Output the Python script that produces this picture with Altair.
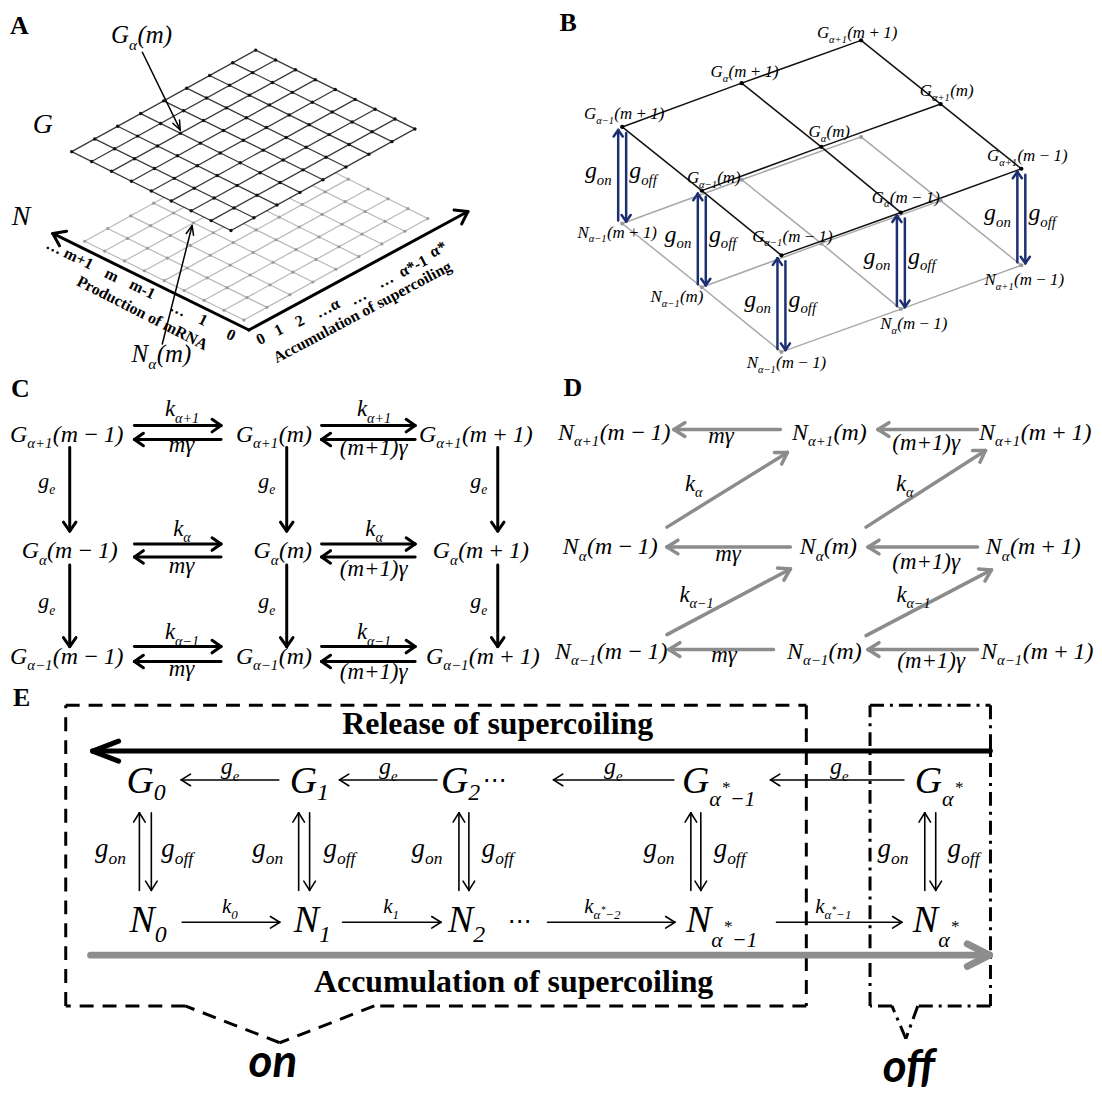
import math
import altair as alt
import pandas as pd

# ======================= values =======================
T_P = "(m\u2009+\u20091)"
T_0 = "(m)"
T_M = "(m\u2009\u2212\u20091)"

panel_letters = ["A", "B", "C", "D", "E"]
panel_letter_x = [10, 562, 11, 566, 13]
panel_letter_y = [30, 27, 394, 393, 705]

# ---- Panel A : two stacked lattices ----
A_cells = 8
A_G_corner = [232, 227]
A_N_corner = [245, 317]
A_step_alpha = [23.1, -12.75]
A_step_m = [-20.0, -9.9]
A_axis_origin = [250, 327]
A_axis_tips = [[53, 230], [470, 208]]
A_m_ticks = ["\u2026 m+1", "m", "m-1", "\u2026", "1", "0"]
A_m_tick_x = [70, 112, 143, 179, 204, 232]
A_m_tick_y = [251, 272, 286, 306, 317, 332]
A_alpha_ticks = ["0", "1", "2", "\u2026\u03b1", "\u2026", "\u2026", "\u03b1*-1", "\u03b1*"]
A_alpha_tick_x = [262, 280, 301, 329, 360, 387, 415, 440]
A_alpha_tick_y = [336, 327, 318, 305, 294, 277, 263, 246]
A_axis_titles = ["Production of mRNA", "Accumulation of supercoiling"]
A_axis_title_x = [143, 364]
A_axis_title_y = [310, 309]
A_axis_title_angle = [27, -28]
A_layer_names = ["G", "N"]
A_layer_x = [43, 21]
A_layer_y = [120, 213]
A_callouts = ["G|_\u03b1|(m)", "N|_\u03b1|(m)"]
A_callout_x = [142, 162]
A_callout_y = [31, 352]
A_callout_from = [[143, 48], [163, 341]]
A_callout_to = [[181, 126], [193, 222]]

# ---- Panel B : 3-D lattice ----
B_alpha = ["\u03b1\u22121", "\u03b1", "\u03b1+1"]
B_m_tail = [T_P, T_0, T_M]
B_G_x = [[625, 745, 865], [705, 825, 945], [785, 905, 1026]]
B_G_y = [[123, 79, 36], [187, 143, 100], [252, 209, 165]]
B_N_drop = 97
B_G_label_x = [[627, 748, 861], [717, 833, 951], [796, 910, 1032]]
B_G_label_y = [[110, 68, 29], [174, 128, 87], [233, 194, 152]]
B_front = [[0, 0], [1, 0], [2, 0], [2, 1], [2, 2]]
B_N_label_x = [620, 680, 790, 918, 1029]
B_N_label_y = [229, 294, 360, 321, 277]

# ---- Panel C ----
C_alpha = ["\u03b1+1", "\u03b1", "\u03b1\u22121"]
C_tails = [T_M, T_0, T_P]
C_node_x = [[67, 275, 478], [70, 284, 483], [67, 275, 485]]
C_node_y = [432, 549, 655]
C_harrow_x = [[135, 222], [323, 417]]
C_harrow_y = [[423, 437], [542, 555], [645, 660]]
C_rate_x = [183, 376]
C_fwd_labels = ["k|_\u03b1+1", "k|_\u03b1", "k|_\u03b1\u22121"]
C_fwd_y = [408, 528, 632]
C_back_labels = ["m\u03b3", "(m+1)\u03b3"]
C_back_y = [447, 568, 672]
C_varrow_x = [70, 288, 500]
C_varrow_y = [[445, 529], [563, 645]]
C_ge_x = [47, 268, 481]
C_ge_y = [483, 604]

# ---- Panel D ----
D_alpha = ["\u03b1+1", "\u03b1", "\u03b1\u22121"]
D_node_x = [[617, 833, 1040], [613, 832, 1038], [614, 828, 1042]]
D_node_y = [430, 545, 650]
D_left_arrows = [[784, 677, 427], [982, 882, 427], [794, 670, 545],
                 [982, 872, 545], [777, 672, 648], [982, 872, 648]]
D_diag_arrows = [[670, 525, 791, 450], [870, 525, 990, 448],
                 [670, 633, 794, 567], [870, 634, 996, 568]]
D_back_labels = ["m\u03b3", "(m+1)\u03b3", "m\u03b3", "(m+1)\u03b3", "m\u03b3", "(m+1)\u03b3"]
D_back_x = [725, 931, 732, 931, 728, 936]
D_back_y = [438, 442, 556, 561, 658, 661]
D_k_labels = ["k|_\u03b1", "k|_\u03b1", "k|_\u03b1\u22121", "k|_\u03b1\u22121"]
D_k_x = [697, 909, 700, 918]
D_k_y = [483, 483, 594, 594]

# ---- Panel E ----
E_G_start = [127, 291, 443, 685, 919]
E_N_start = [130, 295, 450, 689, 917]
E_index = ["0", "1", "2", "\u03b1*\u22121", "\u03b1*"]
E_G_base = 792
E_N_base = 932
E_G_arrows = [[280, 182], [439, 341], [677, 556], [908, 774]]
E_G_arrow_y = 779
E_N_arrows = [[183, 281], [344, 443], [550, 678], [780, 906]]
E_N_arrow_y = 922
E_ge_x = [231, 390, 616, 843]
E_ge_y = 770
E_k_labels = ["k|_0", "k|_1", "k|_\u03b1|^*|_\u2009\u22122", "k|_\u03b1|^*|_\u2009\u22121"]
E_k_left = [223, 385, 587, 819]
E_k_base = 913
E_switch_x = [[140, 152], [300, 311], [461, 471], [694, 704], [929, 940]]
E_switch_y = [812, 890]
E_gon_x = [111, 269, 429, 662, 897]
E_goff_x = [178, 341, 500, 733, 968]
E_gon_y = 853
E_dots_x = [497, 522]
E_dots_y = [780, 922]
E_release = "Release of supercoiling"
E_accum = "Accumulation of supercoiling"
E_release_xy = [500, 733]
E_accum_xy = [516, 992]
E_release_arrow = [995, 93, 750]
E_accum_arrow = [91, 994, 955]
E_on_box = [[66, 704], [810, 704], [810, 1006], [376, 1006], [281, 1043], [186, 1006], [66, 1006], [66, 704]]
E_off_box = [[874, 704], [995, 704], [995, 1006], [922, 1006], [910, 1039], [896, 1006], [874, 1006], [874, 704]]
E_state_words = ["on", "off"]
E_state_x = [274, 913]
E_state_y = [1077, 1082]

# ======================= builders =======================
SERIF = "Liberation Serif"
BLACK = "#000000"
GRAY = "#8c8c8c"
NAVY = "#1c2f73"

segs, texts, dots = [], [], []

W = {"G": 0.72, "N": 0.67, "m": 0.72, "(": 0.33, ")": 0.33, "+": 0.68, "\u2212": 0.68,
     "-": 0.33, "0": 0.5, "1": 0.5, "2": 0.5, " ": 0.25, "\u2009": 0.2, "\u03b1": 0.55,
     "\u03b3": 0.45, "k": 0.44, "g": 0.5, "e": 0.44, "o": 0.5, "n": 0.5, "f": 0.28, "*": 0.5}


def tw(t, s):
    return sum(W.get(ch, 0.5) for ch in t) * s


def seg(x1, y1, x2, y2, c=BLACK, w=1.5, kind="solid", z=1):
    segs.append(dict(x=x1, y=y1, x2=x2, y2=y2, c=c, w=w, kind=kind, z=z))


def arrow(x1, y1, x2, y2, c=BLACK, w=1.5, L=10, ang=30):
    seg(x1, y1, x2, y2, c, w, "arrow")
    dx, dy = x2 - x1, y2 - y1
    n = math.hypot(dx, dy)
    ux, uy = dx / n, dy / n
    for sgn in (1, -1):
        a = math.radians(ang) * sgn
        rx = ux * math.cos(a) - uy * math.sin(a)
        ry = ux * math.sin(a) + uy * math.cos(a)
        seg(x2, y2, x2 - L * rx, y2 - L * ry, c, w, "arrow")


def txt(x, y, t, s, c=BLACK, font=SERIF, style="normal", weight="normal",
        align="left", base="alphabetic", angle=0):
    texts.append(dict(x=x, y=y, t=t, s=s, c=c, font=font, style=style, weight=weight,
                      align=align, base=base, a=angle))


def math_label(markup, cx, cy, s, vc=0.3, subr=0.62, subdy=0.28, left=None, c=BLACK):
    pieces = []
    for p in markup.split("|"):
        if p.startswith("_"):
            pieces.append((p[1:], s * subr, s * subdy))
        elif p.startswith("^"):
            pieces.append((p[1:], s * 0.45, 0.0))
        else:
            pieces.append((p, s, 0.0))
    tot = sum(tw(t, z) for t, z, _ in pieces)
    x = left if left is not None else cx - tot / 2
    yb = cy + vc * s
    for t, z, dy in pieces:
        txt(x, yb + dy, t, z, c=c, style="italic")
        x += tw(t, z)


# ---------- panel letters ----------
for L_, x, y in zip(panel_letters, panel_letter_x, panel_letter_y):
    txt(x, y, L_, 26, weight="bold")

# ---------- Panel A ----------
ua, um = A_step_alpha, A_step_m
for corner, col, wdt, dcol, dsz, z in [(A_N_corner, "#b8b8b8", 1.2, "#9a9a9a", 10, 0),
                                         (A_G_corner, "#3a3a3a", 1.3, "#111111", 12, 1)]:
    ox, oy = corner
    for i in range(A_cells + 1):
        sx, sy = ox + i * ua[0], oy + i * ua[1]
        seg(sx, sy, sx + A_cells * um[0], sy + A_cells * um[1], col, wdt, "solid", z)
        sx, sy = ox + i * um[0], oy + i * um[1]
        seg(sx, sy, sx + A_cells * ua[0], sy + A_cells * ua[1], col, wdt, "solid", z)
    for i in range(A_cells + 1):
        for j in range(A_cells + 1):
            dots.append(dict(x=ox + i * ua[0] + j * um[0], y=oy + i * ua[1] + j * um[1],
                             c=dcol, s=dsz, z=z))

# white sheet under the upper lattice
Bc = A_G_corner
Lc = [Bc[0] + A_cells * um[0], Bc[1] + A_cells * um[1]]
Rc = [Bc[0] + A_cells * ua[0], Bc[1] + A_cells * ua[1]]
Tc = [Lc[0] + A_cells * ua[0], Lc[1] + A_cells * ua[1]]


def interp(p, q, x):
    return p[1] + (q[1] - p[1]) * (x - p[0]) / (q[0] - p[0])


def upper(x):
    return interp(Lc, Tc, x) if x <= Tc[0] else interp(Tc, Rc, x)


def lower(x):
    return interp(Lc, Bc, x) if x <= Bc[0] else interp(Bc, Rc, x)


sheet = [dict(x=x, y=upper(x), y2=lower(x)) for x in sorted([Lc[0], Bc[0], Tc[0], Rc[0]])]

for tip in A_axis_tips:
    arrow(A_axis_origin[0], A_axis_origin[1], tip[0], tip[1], BLACK, 3, 14, 35)
for t, x, y in zip(A_m_ticks, A_m_tick_x, A_m_tick_y):
    txt(x, y, t, 16, weight="bold", align="center", base="middle", angle=26)
for t, x, y in zip(A_alpha_ticks, A_alpha_tick_x, A_alpha_tick_y):
    txt(x, y, t, 16, weight="bold", align="center", base="middle", angle=-27)
for t, x, y, a in zip(A_axis_titles, A_axis_title_x, A_axis_title_y, A_axis_title_angle):
    txt(x, y, t, 16, weight="bold", align="center", base="middle", angle=a)
for t, x, y in zip(A_layer_names, A_layer_x, A_layer_y):
    txt(x, y + 9, t, 28, style="italic", align="center")
for t, x, y, f, g in zip(A_callouts, A_callout_x, A_callout_y, A_callout_from, A_callout_to):
    math_label(t, x, y, 25)
    arrow(f[0], f[1], g[0], g[1], BLACK, 1.5, 10, 22)

# ---------- Panel B ----------
for r in range(3):
    for k in range(3):
        if k < 2:
            seg(B_G_x[r][k], B_G_y[r][k] + B_N_drop, B_G_x[r][k + 1], B_G_y[r][k + 1] + B_N_drop, "#a8a8a8", 1.5)
        if r < 2:
            seg(B_G_x[r][k], B_G_y[r][k] + B_N_drop, B_G_x[r + 1][k], B_G_y[r + 1][k] + B_N_drop, "#a8a8a8", 1.5)
for r in range(3):
    for k in range(3):
        if k < 2:
            seg(B_G_x[r][k], B_G_y[r][k], B_G_x[r][k + 1], B_G_y[r][k + 1], "#111111", 1.5)
        if r < 2:
            seg(B_G_x[r][k], B_G_y[r][k], B_G_x[r + 1][k], B_G_y[r + 1][k], "#111111", 1.5)
for r in range(3):
    for k in range(3):
        dots.append(dict(x=B_G_x[r][k], y=B_G_y[r][k] + B_N_drop, c="#9a9a9a", s=16, z=1))
        dots.append(dict(x=B_G_x[r][k], y=B_G_y[r][k], c="#000000", s=18, z=1))
        math_label(f"G|_{B_alpha[k]}|{B_m_tail[r]}", B_G_label_x[r][k], B_G_label_y[r][k], 17)
for (r, k), lx, ly in zip(B_front, B_N_label_x, B_N_label_y):
    x, gy = B_G_x[r][k], B_G_y[r][k]
    ny = gy + B_N_drop
    arrow(x - 4, ny - 3, x - 4, gy + 3, NAVY, 2.5, 8, 35)
    arrow(x + 4, gy + 6, x + 4, ny - 2, NAVY, 2.5, 8, 35)
    math_label("g|_on", x - 24, (gy + ny) / 2, 24, vc=0.12)
    math_label("g|_off", x + 21, (gy + ny) / 2, 24, vc=0.12)
    math_label(f"N|_{B_alpha[k]}|{B_m_tail[r]}", lx, ly, 17)

# ---------- Panel C ----------
for r in range(3):
    for k in range(3):
        math_label(f"G|_{C_alpha[r]}|{C_tails[k]}", C_node_x[r][k], C_node_y[r], 24)
    ya, yb = C_harrow_y[r]
    for (xa, xb), rx, bl in zip(C_harrow_x, C_rate_x, C_back_labels):
        arrow(xa, ya, xb, ya, BLACK, 3, 11, 35)
        arrow(xb, yb, xa, yb, BLACK, 3, 11, 35)
        math_label(C_fwd_labels[r], rx, C_fwd_y[r], 23, vc=0.25)
        math_label(bl, rx, C_back_y[r], 23, vc=0.12 if bl == "m\u03b3" else 0.25)
for x, gx in zip(C_varrow_x, C_ge_x):
    for (ya, yb), gy in zip(C_varrow_y, C_ge_y):
        arrow(x, ya, x, yb, BLACK, 3, 11, 35)
        math_label("g|_e", gx, gy, 22, vc=0.12)

# ---------- Panel D ----------
for r in range(3):
    for k in range(3):
        math_label(f"N|_{D_alpha[r]}|{C_tails[k]}", D_node_x[r][k], D_node_y[r], 24)
for xa, xb, y in D_left_arrows:
    arrow(xa, y, xb, y, GRAY, 3.5, 13, 32)
for x1, y1, x2, y2 in D_diag_arrows:
    arrow(x1, y1, x2, y2, GRAY, 3.5, 13, 32)
for t, x, y in zip(D_back_labels, D_back_x, D_back_y):
    math_label(t, x, y, 23, vc=0.12 if t == "m\u03b3" else 0.25)
for t, x, y in zip(D_k_labels, D_k_x, D_k_y):
    math_label(t, x, y, 23, vc=0.25)

# ---------- Panel E ----------
for k, idx in enumerate(E_index):
    if idx.startswith("\u03b1"):
        rest = idx[2:]
        mk = "|_\u03b1|^*" + ("|_\u2009" + rest if rest else "")
        math_label("G" + mk, 0, E_G_base, 38, vc=0, subr=0.58, subdy=0.34, left=E_G_start[k])
        math_label("N" + mk, 0, E_N_base, 38, vc=0, subr=0.58, subdy=0.38, left=E_N_start[k])
    else:
        math_label("G|_" + idx, 0, E_G_base, 38, vc=0, subr=0.63, subdy=0.18, left=E_G_start[k])
        math_label("N|_" + idx, 0, E_N_base, 38, vc=0, subr=0.63, subdy=0.26, left=E_N_start[k])
for (xa, xb), gx in zip(E_G_arrows, E_ge_x):
    arrow(xa, E_G_arrow_y, xb, E_G_arrow_y, BLACK, 1.6, 11, 32)
    math_label("g|_e", gx, E_ge_y, 24, vc=0.12)
for (xa, xb), t, kl in zip(E_N_arrows, E_k_labels, E_k_left):
    arrow(xa, E_N_arrow_y, xb, E_N_arrow_y, BLACK, 1.6, 11, 32)
    math_label(t, 0, E_k_base, 21, vc=0, left=kl)
for (xu, xd), gon, goff in zip(E_switch_x, E_gon_x, E_goff_x):
    arrow(xu, E_switch_y[1], xu, E_switch_y[0], BLACK, 1.6, 11, 32)
    arrow(xd, E_switch_y[0], xd, E_switch_y[1], BLACK, 1.6, 11, 32)
    math_label("g|_on", gon, E_gon_y, 27, vc=0.12, subr=0.65)
    math_label("g|_off", goff, E_gon_y, 27, vc=0.12, subr=0.65)
for x, y in zip(E_dots_x, E_dots_y):
    txt(x, y + 7, "\u22ef", 24, font="DejaVu Sans", align="center")
txt(E_release_xy[0], E_release_xy[1], E_release, 32, weight="bold", align="center")
txt(E_accum_xy[0], E_accum_xy[1], E_accum, 32, weight="bold", align="center")
xa, xb, y = E_release_arrow
arrow(xa, y, xb, y, BLACK, 5, 28, 21)
seg(xa, y - 6, xa, y + 6, BLACK, 3)
xa, xb, y = E_accum_arrow
arrow(xa, y, xb, y, "#8d8d8d", 7, 25, 27)
for box, kind in [(E_on_box, "dash"), (E_off_box, "dashdot")]:
    for p, q in zip(box[:-1], box[1:]):
        seg(p[0], p[1], q[0], q[1], BLACK, 3, kind)
for t, x, y in zip(E_state_words, E_state_x, E_state_y):
    txt(x, y, t, 46, font="Lato", style="italic", weight="bold", align="center")

# ======================= chart =======================
XS = alt.Scale(domain=[8, 1094], nice=False, zero=False)
YS = alt.Scale(domain=[8, 1087], nice=False, zero=False, reverse=True)
X = alt.X("x:Q", scale=XS, axis=None)
Y = alt.Y("y:Q", scale=YS, axis=None)

seg_df = pd.DataFrame(segs)
dot_df = pd.DataFrame(dots)
txt_df = pd.DataFrame(texts)


def rule_layer(df, kind):
    props = {}
    if kind == "dash":
        props = dict(strokeDash=[14, 9], strokeCap="butt")
    elif kind == "dashdot":
        props = dict(strokeDash=[14, 6, 3, 6], strokeCap="butt")
    elif kind == "arrow":
        props = dict(strokeCap="round")
    return alt.Chart(df).mark_rule(**props).encode(
        x=X, y=Y, x2="x2:Q", y2="y2:Q",
        color=alt.Color("c:N", scale=None),
        strokeWidth=alt.StrokeWidth("w:Q", scale=None))


def dot_layer(df):
    return alt.Chart(df).mark_circle(opacity=1).encode(
        x=X, y=Y, color=alt.Color("c:N", scale=None), size=alt.Size("s:Q", scale=None))


layers = []
layers.append(rule_layer(seg_df[seg_df.z == 0], "solid"))
layers.append(dot_layer(dot_df[dot_df.z == 0]))
layers.append(alt.Chart(pd.DataFrame(sheet)).mark_area(color="white", opacity=1).encode(
    x=X, y=Y, y2="y2:Q"))
upper_segs = seg_df[seg_df.z == 1]
for kind in ["solid", "dash", "dashdot"]:
    sub = upper_segs[upper_segs.kind == kind]
    if len(sub):
        layers.append(rule_layer(sub, kind))
layers.append(dot_layer(dot_df[dot_df.z == 1]))
layers.append(rule_layer(upper_segs[upper_segs.kind == "arrow"], "arrow"))

for key, g in txt_df.groupby(["font", "style", "weight", "align", "base"], sort=False):
    font, style, weight, align, base = key
    layers.append(alt.Chart(g).mark_text(font=font, fontStyle=style, fontWeight=weight,
                                         align=align, baseline=base).encode(
        x=X, y=Y, text="t:N",
        size=alt.Size("s:Q", scale=None),
        angle=alt.Angle("a:Q", scale=None),
        color=alt.Color("c:N", scale=None)))

chart = alt.layer(*layers).properties(width=1086, height=1079, padding=0,
                                      background="white").configure_view(strokeWidth=0)
chart.save("out.html", embed_options={"renderer": "svg", "actions": False})
